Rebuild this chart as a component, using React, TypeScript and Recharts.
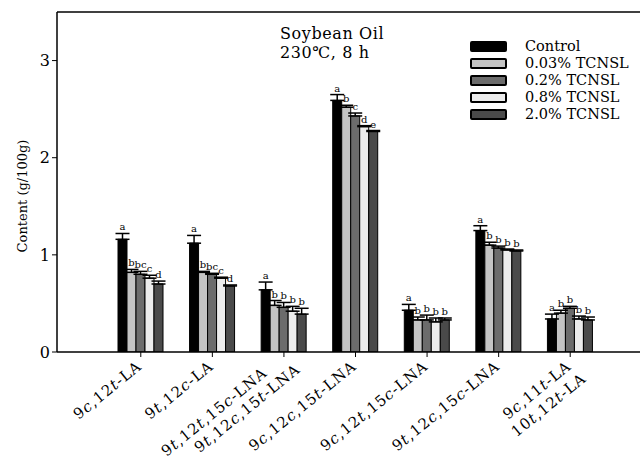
import { BarChart, Bar, XAxis, YAxis, ErrorBar, LabelList, ReferenceLine } from 'recharts'

const CATEGORIES = [
    '9c,12t-LA',
    '9t,12c-LA',
    '9t,12t,15c-LNA\n9t,12c,15t-LNA',
    '9c,12c,15t-LNA',
    '9c,12t,15c-LNA',
    '9t,12c,15c-LNA',
    '9c,11t-LA\n10t,12t-LA',
]

const SERIES = ['Control', '0.03% TCNSL', '0.2% TCNSL', '0.8% TCNSL', '2.0% TCNSL']
const COLORS = ['#000000', '#c4c4c4', '#6c6c6c', '#ececec', '#4a4a4a']

const CONTROL = [1.16, 1.12, 0.64, 2.59, 0.43, 1.25, 0.34]
const TCNSL_003 = [0.82, 0.82, 0.48, 2.52, 0.33, 1.10, 0.40]
const TCNSL_02 = [0.80, 0.80, 0.46, 2.43, 0.33, 1.07, 0.45]
const TCNSL_08 = [0.76, 0.76, 0.42, 2.32, 0.31, 1.05, 0.34]
const TCNSL_20 = [0.70, 0.68, 0.39, 2.27, 0.33, 1.04, 0.33]

const CONTROL_ERR = [0.06, 0.08, 0.08, 0.06, 0.06, 0.05, 0.05]
const TCNSL_003_ERR = [0.03, 0.01, 0.05, 0.02, 0.03, 0.03, 0.03]
const TCNSL_02_ERR = [0.03, 0.01, 0.05, 0.03, 0.05, 0.02, 0.02]
const TCNSL_08_ERR = [0.03, 0.01, 0.05, 0.01, 0.04, 0.01, 0.03]
const TCNSL_20_ERR = [0.03, 0.01, 0.06, 0.01, 0.02, 0.01, 0.03]

const CONTROL_SIG = ['a', 'a', 'a', 'a', 'a', 'a', 'a']
const TCNSL_003_SIG = ['b', 'b', 'b', 'b', 'b', 'b', 'b']
const TCNSL_02_SIG = ['bc', 'bc', 'b', 'c', 'b', 'b', 'b']
const TCNSL_08_SIG = ['c', 'c', 'b', 'd', 'b', 'b', 'b']
const TCNSL_20_SIG = ['d', 'd', 'b', 'e', 'b', 'b', 'b']

const Y_TICKS = [0, 1, 2, 3]
const Y_MAX = 3.5

const VALUES = [CONTROL, TCNSL_003, TCNSL_02, TCNSL_08, TCNSL_20]
const ERRORS = [CONTROL_ERR, TCNSL_003_ERR, TCNSL_02_ERR, TCNSL_08_ERR, TCNSL_20_ERR]
const SIGS = [CONTROL_SIG, TCNSL_003_SIG, TCNSL_02_SIG, TCNSL_08_SIG, TCNSL_20_SIG]

const data = CATEGORIES.map((name, i) => {
    const row: Record<string, any> = { name }
    VALUES.forEach((vals, s) => {
        row[`v${s}`] = vals[i]
        row[`e${s}`] = [0, ERRORS[s][i]]
        row[`l${s}`] = `${SIGS[s][i]}|${ERRORS[s][i]}`
    })
    return row
})

const FONT = '"DejaVu Serif", "Liberation Serif", serif'
const TOP = 12
const PLOT_H = 340
const PX_PER_UNIT = PLOT_H / Y_MAX

function SigLabel(props: any) {
    const vb = props.viewBox || {}
    const x = props.x ?? vb.x
    const y = props.y ?? vb.y
    const width = props.width ?? vb.width
    const [letter, err] = String(props.value).split('|')
    const errPx = Number(err) * PX_PER_UNIT
    return (
        <text x={x + width / 2} y={y - errPx - 3} textAnchor='middle' fontSize={10} fontFamily={FONT} fill='#000'>
            {letter}
        </text>
    )
}

// c / t after a digit is the isomer marker, set in italics
function isomerText(line: string) {
    return line.split('').map((ch, i) => {
        const italic = (ch === 'c' || ch === 't') && i > 0 && /\d/.test(line[i - 1])
        return <tspan key={i} fontStyle={italic ? 'italic' : 'normal'}>{ch}</tspan>
    })
}

function XTick(props: any) {
    const { x, y, payload, index } = props
    const lines = String(payload.value).split('\n')
    const two = lines.length > 1
    // the stacked labels of the third group sit centred on their tick
    const centred = index === 2
    const pos = (i: number) => {
        if (!two) return [0, 0]
        if (centred) return i === 0 ? [-18, -6] : [10, 12]
        return i === 0 ? [0, 0] : [4, 19]
    }
    return (
        <g transform={`translate(${x + 2},${y + 9}) rotate(-39)`}>
            {lines.map((line, i) => (
                <text
                    key={i}
                    x={pos(i)[0]}
                    y={pos(i)[1]}
                    textAnchor='end'
                    fontSize={15}
                    letterSpacing={1}
                    fontFamily={FONT}
                    fill='#000'
                >
                    {isomerText(line)}
                </text>
            ))}
        </g>
    )
}

export default function App() {
    return (
        <div style={{ position: 'absolute', left: 0, top: 0, width: 640, height: 469, overflow: 'hidden', background: '#fff' }}>
            <BarChart
                width={700}
                height={469}
                data={data}
                margin={{ top: TOP, right: 46, left: 0, bottom: 0 }}
                barSize={9}
                barGap={0}
            >
                <XAxis
                    dataKey='name'
                    interval={0}
                    height={117}
                    tick={<XTick />}
                    tickSize={5}
                    padding={{ left: 48, right: 48 }}
                    axisLine={{ stroke: '#000', strokeWidth: 1.5 }}
                    tickLine={{ stroke: '#000' }}
                />
                <YAxis
                    width={57}
                    domain={[0, Y_MAX]}
                    ticks={Y_TICKS}
                    tickSize={5}
                    allowDataOverflow
                    axisLine={{ stroke: '#000', strokeWidth: 1.5 }}
                    tickLine={{ stroke: '#000' }}
                    tick={{ fill: '#000', fontSize: 16, fontFamily: FONT }}
                />
                <ReferenceLine y={Y_MAX} stroke='#000' strokeWidth={1.5} ifOverflow='visible' />
                {SERIES.map((s, i) => (
                    <Bar key={s} dataKey={`v${i}`} name={s} fill={COLORS[i]} stroke='#000' strokeWidth={1} isAnimationActive={false}>
                        <ErrorBar dataKey={`e${i}`} width={7} stroke='#000' strokeWidth={1.5} direction='y' />
                        <LabelList dataKey={`l${i}`} content={<SigLabel />} />
                    </Bar>
                ))}
            </BarChart>

            <div style={{
                position: 'absolute', left: 22, top: 196, transform: 'translate(-50%, -50%) rotate(-90deg)',
                whiteSpace: 'nowrap', fontFamily: FONT, fontSize: 13, color: '#000',
            }}>
                Content (g/100g)
            </div>

            <div style={{ position: 'absolute', left: 280, top: 24, fontFamily: FONT, fontSize: 16, letterSpacing: 0.6, lineHeight: '19px', color: '#000' }}>
                <div>Soybean Oil</div>
                <div>230℃, 8 h</div>
            </div>

            <div style={{ position: 'absolute', left: 470, top: 38, fontFamily: FONT, fontSize: 14.5, lineHeight: '17px', color: '#000' }}>
                {SERIES.map((s, i) => (
                    <div key={s} style={{ display: 'flex', alignItems: 'center', height: 17 }}>
                        <div style={{
                            boxSizing: 'border-box', width: 37, height: 11, background: COLORS[i],
                            border: '2px solid #000', borderRadius: 2, marginRight: 18,
                        }} />
                        <span style={{ whiteSpace: 'nowrap' }}>{s}</span>
                    </div>
                ))}
            </div>
        </div>
    )
}
